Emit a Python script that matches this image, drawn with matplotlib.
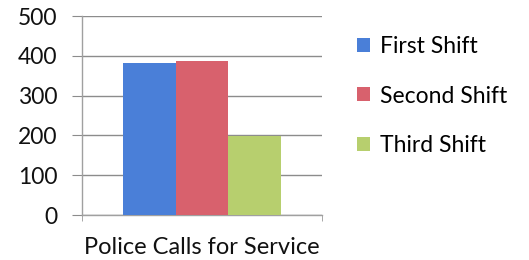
import matplotlib
matplotlib.use("Agg")
import matplotlib.pyplot as plt
from matplotlib.patches import Patch

plt.rcParams['font.family'] = ['Lato', 'DejaVu Sans']

categories = ["Police Calls for Service"]
series = ["First Shift", "Second Shift", "Third Shift"]
values = [383, 388, 198]
colors = ["#4a7fd8", "#d8616d", "#b7cf6e"]
yticks = [0, 100, 200, 300, 400, 500]

fig = plt.figure(figsize=(5.29, 2.60), dpi=100)
ax = fig.add_axes([0.155, 0.173, 0.454, 0.765])

width = 0.22
offsets = [-width, 0, width]
for v, c, off, name in zip(values, colors, offsets, series):
    ax.bar(0 + off, v, width=width, color=c, label=name, zorder=3)

ax.set_xlim(-0.5, 0.5)
ax.set_ylim(0, 500)
ax.set_yticks(yticks)
ax.set_xticks([0])
ax.set_xticklabels(categories, fontsize=17, color="#111111")
ax.set_xticks([-0.5, 0.5], minor=True)
ax.tick_params(axis='x', which='major', length=0, pad=16)
ax.tick_params(axis='x', which='minor', length=4, color="#999999", direction='out')
ax.tick_params(axis='y', length=7.5, color="#8c8c8c", labelsize=16.5, labelcolor="#111111", pad=10)
ax.yaxis.grid(True, color="#8c8c8c", linewidth=1.0, zorder=0)
for s in ['top', 'right']:
    ax.spines[s].set_visible(False)
for s in ['left', 'bottom']:
    ax.spines[s].set_color("#a0a0a0")
    ax.spines[s].set_linewidth(1.0)

handles = [Patch(facecolor=c, edgecolor='none') for c in colors]
fig.legend(handles, series, loc='upper left', bbox_to_anchor=(357 / 529, 0.862),
           frameon=False, fontsize=16.5, handlelength=0.57, handleheight=0.57,
           handletextpad=0.45, labelspacing=1.25, borderpad=0, borderaxespad=0)

fig.savefig("out.png", dpi=100)
